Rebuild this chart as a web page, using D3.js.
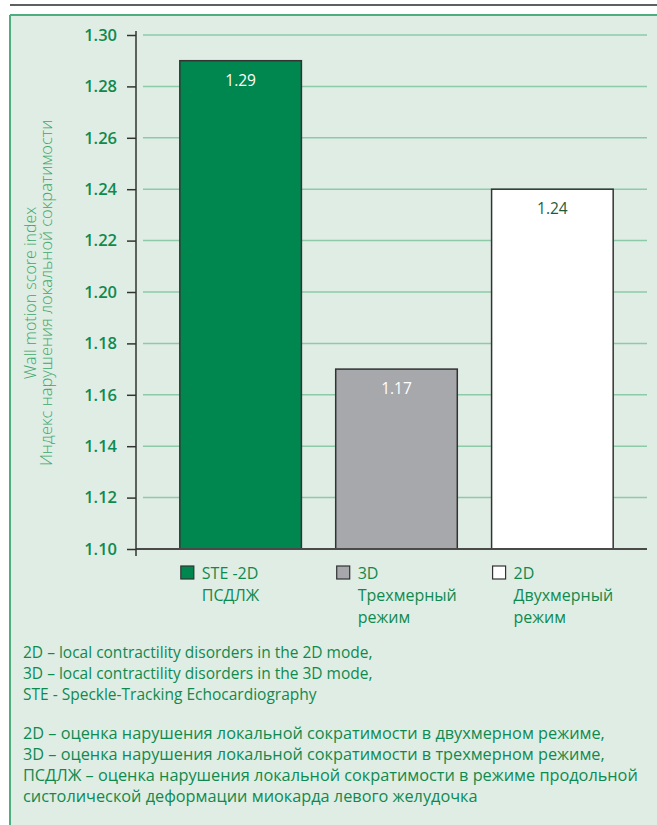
<!DOCTYPE html>
<html><head><meta charset="utf-8">
<script src="https://cdn.jsdelivr.net/npm/d3@7"></script>
<style>body{margin:0;background:#fff;} svg{display:block;}</style>
</head><body>
<script>
const categories = ["STE -2D", "3D", "2D"];
const values = [1.29, 1.17, 1.24];
const valueLabels = ["1.29", "1.17", "1.24"];
const legendLines = [["STE -2D", "ПСДЛЖ"], ["3D", "Трехмерный", "режим"], ["2D", "Двухмерный", "режим"]];
const tickValues = [1.10, 1.12, 1.14, 1.16, 1.18, 1.20, 1.22, 1.24, 1.26, 1.28, 1.30];
const axisTitle = ["Wall motion score index", "Индекс нарушения локальной сократимости"];
const notesEn = ["2D – local contractility disorders in the 2D mode,", "3D – local contractility disorders in the 3D mode,", "STE - Speckle-Tracking Echocardiography"];
const notesRu = ["2D – оценка нарушения локальной сократимости в двухмерном режиме,", "3D – оценка нарушения локальной сократимости в трехмерном режиме,", "ПСДЛЖ – оценка нарушения локальной сократимости в режиме продольной", "систолической деформации миокарда левого желудочка"];
const barColors = ["#00874f", "#a7a8ac", "#ffffff"];
const labelColors = ["#ffffff", "#ffffff", "#1d5c3a"];

const W = 657, H = 825;
const font = "'Open Sans', sans-serif";
const green = "#0f8a4f";
const svg = d3.select("body").append("svg").attr("width", W).attr("height", H);

svg.append("rect").attr("x", 10).attr("y", 15).attr("width", W - 10).attr("height", H - 15).attr("fill", "#e0ede4");
svg.append("line").attr("x1", 10).attr("x2", W).attr("y1", 5).attr("y2", 5).attr("stroke", "#2a2a2a").attr("stroke-width", 1.5);
svg.append("line").attr("x1", 10).attr("x2", W).attr("y1", 15).attr("y2", 15).attr("stroke", "#4fae80").attr("stroke-width", 2);
svg.append("line").attr("x1", 10).attr("x2", 10).attr("y1", 15).attr("y2", H).attr("stroke", "#4fae80").attr("stroke-width", 2);

const y = d3.scaleLinear().domain([1.10, 1.30]).range([549, 35]);
const x = d3.scaleBand().domain(categories).range([158, 635]).paddingInner(0.22).paddingOuter(0.14);
const axisX = 136, gridEnd = 647;

// gridlines
svg.append("g").selectAll("line").data(tickValues.filter(d => d > 1.10)).join("line")
  .attr("x1", axisX + 7).attr("x2", gridEnd).attr("y1", d => y(d)).attr("y2", d => y(d))
  .attr("stroke", "#8ccaa8").attr("stroke-width", 1.5);

// bars
svg.append("g").selectAll("rect").data(values).join("rect")
  .attr("x", (d, i) => x(categories[i])).attr("width", x.bandwidth())
  .attr("y", d => y(d)).attr("height", d => y(1.10) - y(d))
  .attr("fill", (d, i) => barColors[i]).attr("stroke", "#333").attr("stroke-width", 1.5);

svg.append("g").selectAll("text").data(values).join("text")
  .attr("x", (d, i) => x(categories[i]) + x.bandwidth() / 2).attr("y", d => y(d) + 25)
  .attr("text-anchor", "middle").attr("font-family", font).attr("font-size", 15.5)
  .attr("fill", (d, i) => labelColors[i]).text((d, i) => valueLabels[i]);

// baseline
svg.append("line").attr("x1", axisX).attr("x2", gridEnd).attr("y1", y(1.10)).attr("y2", y(1.10))
  .attr("stroke", "#4a4a4a").attr("stroke-width", 2);

// y axis
const yAxis = d3.axisLeft(y).tickValues(tickValues).tickFormat(d3.format(".2f")).tickSize(9).tickPadding(10);
const gy = svg.append("g").attr("transform", `translate(${axisX},0)`).call(yAxis);
gy.select(".domain").remove();
gy.selectAll(".tick line").attr("stroke", "#333").attr("stroke-width", 1.5);
gy.selectAll(".tick text").attr("fill", green).attr("font-family", font).attr("font-size", 16.5).attr("font-weight", 600);
svg.append("line").attr("x1", axisX).attr("x2", axisX).attr("y1", y(1.30) - 4).attr("y2", 556).attr("stroke", "#333").attr("stroke-width", 1.5);

// axis title
const titleSizes = [16, 16.5];
axisTitle.forEach((t, i) => {
  svg.append("text").attr("transform", `translate(${36 + i * 16},293) rotate(-90)`)
    .attr("text-anchor", "middle").attr("font-family", font).attr("font-size", titleSizes[i]).attr("font-weight", 300)
    .attr("fill", "#3da66c").text(t);
});

// legend
categories.forEach((c, i) => {
  const lx = x(c);
  svg.append("rect").attr("x", lx + 1).attr("y", 566).attr("width", 13).attr("height", 13)
    .attr("fill", barColors[i]).attr("stroke", "#333").attr("stroke-width", 1.2);
  legendLines[i].forEach((l, j) => {
    svg.append("text").attr("x", lx + 22).attr("y", 579 + j * 22).attr("font-family", font)
      .attr("font-size", 16).attr("fill", green).text(l);
  });
});

// notes
notesEn.forEach((t, i) => {
  svg.append("text").attr("x", 23).attr("y", 658 + i * 21).attr("font-family", font)
    .attr("font-size", 15.5).attr("fill", green).text(t);
});
notesRu.forEach((t, i) => {
  svg.append("text").attr("x", 23).attr("y", 739 + i * 21).attr("font-family", font)
    .attr("font-size", 16.3).attr("fill", green).text(t);
});
</script>
</body></html>
